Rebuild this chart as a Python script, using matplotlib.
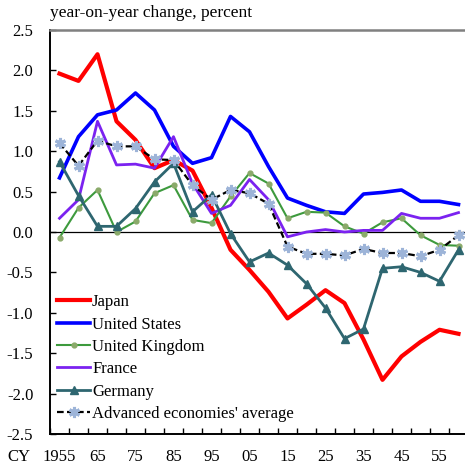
import matplotlib
matplotlib.use("Agg")
import matplotlib.pyplot as plt

plt.rcParams["font.family"] = ["Liberation Serif", "DejaVu Serif"]

years = list(range(1955, 2061, 5))
year_labels = ["1955", "65", "75", "85", "95", "05", "15", "25", "35", "45", "55"]

japan = [1.96, 1.87, 2.20, 1.37, 1.14, 0.79, 0.89, 0.76, 0.30, -0.22, -0.47,
         -0.74, -1.07, -0.90, -0.72, -0.88, -1.33, -1.83, -1.54, -1.36, -1.21, -1.26]
us = [0.67, 1.18, 1.45, 1.51, 1.72, 1.51, 1.06, 0.85, 0.92, 1.43, 1.24,
      0.81, 0.42, 0.33, 0.25, 0.23, 0.47, 0.49, 0.52, 0.38, 0.38, 0.34]
uk = [-0.07, 0.30, 0.52, 0.00, 0.13, 0.48, 0.58, 0.15, 0.11, 0.44, 0.73,
      0.60, 0.17, 0.25, 0.24, 0.07, -0.02, 0.12, 0.17, -0.04, -0.16, -0.17]
france = [0.17, 0.40, 1.37, 0.83, 0.84, 0.79, 1.18, 0.60, 0.23, 0.33, 0.65,
          0.40, -0.06, 0.00, 0.03, 0.00, 0.02, 0.02, 0.23, 0.17, 0.17, 0.24]
germany = [0.87, 0.45, 0.07, 0.07, 0.29, 0.62, 0.85, 0.25, 0.46, -0.02, -0.37,
           -0.26, -0.41, -0.64, -0.94, -1.32, -1.20, -0.45, -0.43, -0.50, -0.61, -0.22]
average = [1.10, 0.82, 1.13, 1.06, 1.06, 0.90, 0.89, 0.58, 0.40, 0.52, 0.48,
           0.35, -0.18, -0.27, -0.27, -0.29, -0.21, -0.26, -0.26, -0.30, -0.22, -0.04]

x = list(range(len(years)))

fig = plt.figure(figsize=(4.65, 4.73), dpi=100)
ax = fig.add_axes([50 / 465, 39 / 473, 418 / 465, 404 / 473])

ax.axhline(0, color="black", lw=0.9, zorder=1)

ax.plot(x, japan, color="#ff0000", lw=3.0, label="Japan")
ax.plot(x, us, color="#0000ff", lw=2.6, label="United States")
ax.plot(x, uk, color="#3d9a3d", lw=1.5, marker="o", ms=3.5,
        mfc="#8aaa6a", mec="#8aaa6a", label="United Kingdom")
ax.plot(x, france, color="#7b22f0", lw=2.0, label="France")
ax.plot(x, germany, color="#2e6670", lw=2.0, marker="^", ms=6,
        label="Germany")
ax.plot(x, average, color="black", lw=1.6, ls=(0, (3, 1.5)), marker=(6, 2, 0),
        ms=8, mec="#9db4d8", mew=2.2, label="Advanced economies' average")

ax.set_xlim(-0.5, 21.5)
ax.set_ylim(-2.5, 2.5)

ax.set_yticks([2.5 - 0.5 * i for i in range(11)])
ax.set_yticklabels(["%.1f" % (2.5 - 0.5 * i) for i in range(11)], fontsize=12)
ax.set_xticks(x[::2])
ax.set_xticklabels(year_labels, fontsize=12)
ax.set_xticks([i - 0.5 for i in range(len(years) + 1)], minor=True)
ax.tick_params(axis="x", which="major", length=0, pad=11)
ax.tick_params(axis="x", which="minor", direction="in", length=4, width=1)
ax.tick_params(axis="y", direction="in", length=4, width=1, pad=12)

ax.spines["right"].set_visible(False)
ax.spines["top"].set_color("#808080")
ax.spines["top"].set_linewidth(1.8)
ax.spines["left"].set_linewidth(1.4)
ax.spines["bottom"].set_linewidth(1.4)

fig.text(50 / 465, 1 - 13 / 473, "year-on-year change, percent", fontsize=12.5,
         ha="left", va="center")
fig.text(7 / 465, 1 - 457 / 473, "CY", fontsize=12, ha="left", va="center")

ax.legend(loc="lower left", bbox_to_anchor=(0.017, 0.03), frameon=False,
          fontsize=12, handlelength=2.0, handletextpad=0.1, labelspacing=0.38,
          borderpad=0, borderaxespad=0)

plt.savefig("out.png", dpi=100)
plt.close()
